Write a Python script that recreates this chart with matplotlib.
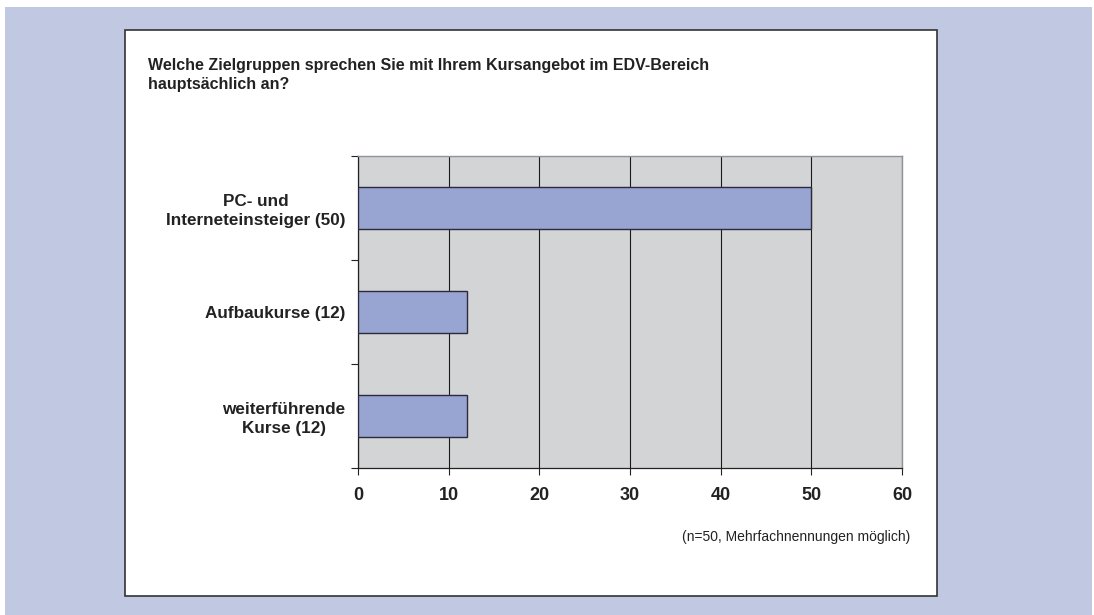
import matplotlib.pyplot as plt
from matplotlib.patches import Rectangle

plt.rcParams['font.family'] = ['Liberation Sans', 'DejaVu Sans']

# data
categories = ['PC- und\nInterneteinsteiger (50)', 'Aufbaukurse (12)', 'weiterführende\nKurse (12)']
values = [50, 12, 12]
x_ticks = [0, 10, 20, 30, 40, 50, 60]

W, H = 1094, 615
fig = plt.figure(figsize=(W / 100, H / 100), dpi=100)

# blue frame and white card
fig.patches.append(Rectangle((5 / W, 0), 1087 / W, 608 / H, transform=fig.transFigure,
                             facecolor='#c1c8e1', edgecolor='none', zorder=-10))
fig.patches.append(Rectangle((125 / W, 1 - 596 / H), 812 / W, 566 / H, transform=fig.transFigure,
                             facecolor='white', edgecolor='#333333', linewidth=1.2, zorder=-9))

ax = fig.add_axes([358 / W, 1 - 468 / H, 544 / W, 312 / H])
ax.set_facecolor('#d3d4d6')

ypos = list(range(len(categories)))
ax.barh(ypos, values, height=0.4, color='#98a4d2', edgecolor='#2a2a3a', linewidth=1.0, zorder=3)
ax.set_ylim(len(categories) - 0.5, -0.5)
ax.set_xlim(0, 60)

ax.set_xticks(x_ticks)
ax.set_xticklabels([str(t) for t in x_ticks], fontsize=13, fontweight='bold', color='#222222')
ax.xaxis.grid(True, color='#1a1a1a', linewidth=0.8, zorder=1)
ax.set_axisbelow(True)

ax.set_yticks(ypos)
ax.set_yticklabels(categories, fontsize=12.3, fontweight='bold', color='#222222', linespacing=1.25)
for lab in ax.get_yticklabels():
    lab.set_multialignment('center')
ax.set_yticks([y + 0.5 for y in [-1] + ypos], minor=True)
ax.tick_params(axis='y', which='major', length=0, pad=9)
ax.tick_params(axis='y', which='minor', length=5, width=0.8, color='#222222')
ax.tick_params(axis='x', length=5, width=0.8, color='#222222', pad=9)

for s in ['top', 'right']:
    ax.spines[s].set_color('#8e959a')
    ax.spines[s].set_linewidth(1.0)
for s in ['left', 'bottom']:
    ax.spines[s].set_color('#222222')
    ax.spines[s].set_linewidth(0.9)

fig.text(148 / W, 1 - 58 / H, 'Welche Zielgruppen sprechen Sie mit Ihrem Kursangebot im EDV-Bereich\nhauptsächlich an?',
         fontsize=11.5, fontweight='bold', color='#222222', va='top', ha='left', linespacing=1.3)
fig.text(910 / W, 1 - 537 / H, '(n=50, Mehrfachnennungen möglich)', fontsize=10, color='#222222',
         ha='right', va='center')

fig.savefig('out.png', dpi=100)
